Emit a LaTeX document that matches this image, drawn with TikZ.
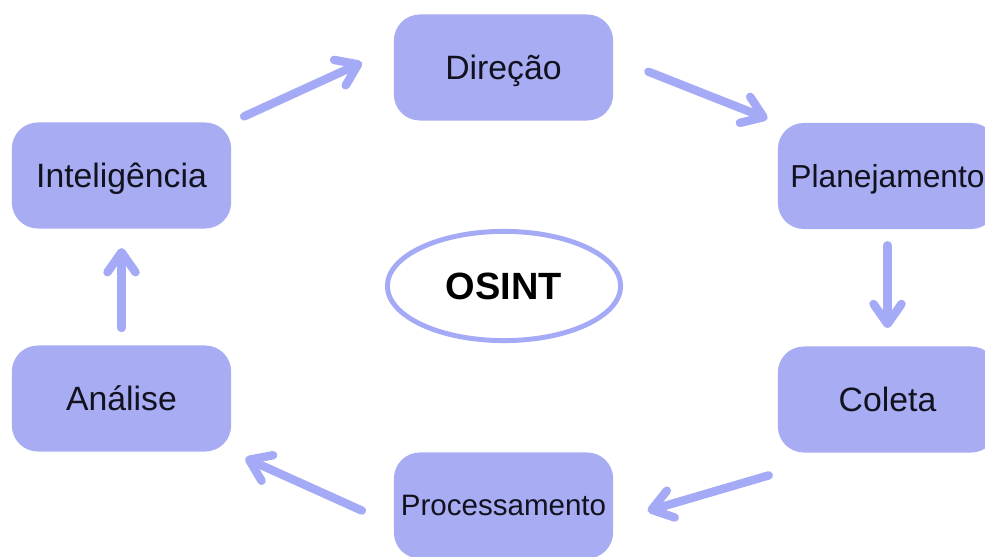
\documentclass[tikz,border=0pt]{standalone}
\usepackage{fontspec}
\setmainfont{Liberation Sans}
\usetikzlibrary{arrows.meta,shapes.geometric}
\definecolor{stagefill}{RGB}{167,172,243}
\definecolor{flowcol}{RGB}{164,170,245}
\definecolor{ink}{RGB}{18,18,30}

\begin{document}
\begin{tikzpicture}[x=0.025cm,y=-0.025cm,font=\fontsize{24}{29}\selectfont,
  stage/.style={fill=stagefill,text=ink,rounded corners=0.65cm,minimum width=5.48cm,minimum height=2.65cm,inner sep=0pt,text depth=0pt},
  flow/.style={draw=flowcol,line width=6pt,line cap=round,-{Straight Barb[length=0.5cm,width=0.7cm,round]}}]
\useasboundingbox (0,0) rectangle (985,557);
\node[stage] (dir) at (503.5,67.5) {Direção};
\node[stage,font=\fontsize{22.6}{27}\selectfont] (plan) at (887.5,176) {Planejamento};
\node[stage] (coleta) at (887.5,399.5) {Coleta};
\node[stage,font=\fontsize{21}{25}\selectfont] (proc) at (503.5,505.5) {Processamento};
\node[stage] (ana) at (121.5,398.5) {Análise};
\node[stage] (intel) at (121.5,175.5) {Inteligência};
\node[ellipse,draw=flowcol,line width=3.5pt,fill=white,minimum width=5.83cm,minimum height=2.73cm,inner sep=0pt,
  font=\fontsize{27}{31}\selectfont\bfseries] (osint) at (504,286) {OSINT};
% ciclo
\draw[flow,shorten <=0.35cm,shorten >=0.87cm] (intel.north east) -- (dir.170);
\draw[flow,shorten <=0.94cm,shorten >=0.27cm] (dir.5) -- (plan.north west);
\draw[flow,shorten <=0.4cm,shorten >=0.45cm] (plan.south) -- (coleta.north);
\draw[flow,shorten <=0.23cm,shorten >=0.89cm] ([yshift=-0.5cm]coleta.south west) -- (proc.-8);
\draw[flow,shorten <=0.87cm,shorten >=0.38cm] (proc.190) -- (ana.south east);
\draw[flow,shorten <=0.43cm,shorten >=0.48cm] (ana.north) -- (intel.south);
\end{tikzpicture}
\end{document}
